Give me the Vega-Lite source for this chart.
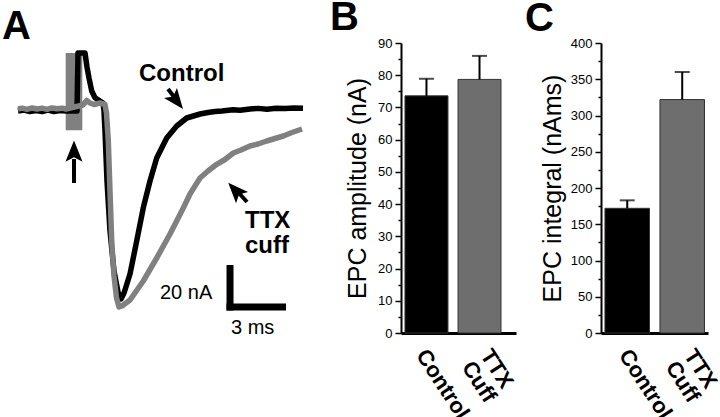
{
  "$schema": "https://vega.github.io/schema/vega-lite/v6.json",
  "background": "white",
  "padding": {"left": 0, "top": -3, "right": 0, "bottom": 0},
  "bounds": "flush",
  "spacing": 85,
  "config": {
    "view": {"stroke": null},
    "font": "Liberation Sans",
    "axis": {"labelFont": "Liberation Sans", "titleFont": "Liberation Sans", "grid": false, "labelColor": "black", "titleColor": "black", "domainColor": "black", "tickColor": "black"},
    "axisY": {"labelOverlap": false},
    "title": {"font": "Liberation Sans", "color": "black", "fontSize": 40, "fontWeight": "bold", "anchor": "start", "frame": "group", "baseline": "alphabetic"},
    "text": {"font": "Liberation Sans"}
  },
  "datasets": {
    "black": [
      {"t": -2.513, "I": -0.952}, {"t": -2.193, "I": -0.476}, {"t": -1.872, "I": -1.2}, {"t": -1.551, "I": -0.714},
      {"t": -1.230, "I": -1.2}, {"t": -0.909, "I": -0.476}, {"t": -0.588, "I": -1.190}, {"t": -0.267, "I": -0.714},
      {"t": 0.053, "I": -0.952}, {"t": 0.642, "I": -0.952}, {"t": 0.695, "I": 26.667}, {"t": 1.070, "I": 26.667},
      {"t": 1.176, "I": 20.0}, {"t": 1.283, "I": 14.762}, {"t": 1.428, "I": 8.571}, {"t": 1.604, "I": 5.381},
      {"t": 1.872, "I": 3.810}, {"t": 2.032, "I": 2.857}, {"t": 2.086, "I": -0.952}, {"t": 2.139, "I": -10.476},
      {"t": 2.246, "I": -34.286}, {"t": 2.406, "I": -58.095}, {"t": 2.620, "I": -77.143}, {"t": 2.834, "I": -87.143},
      {"t": 2.995, "I": -90.476}, {"t": 3.155, "I": -87.619}, {"t": 3.476, "I": -78.571}, {"t": 3.834, "I": -62.857},
      {"t": 4.187, "I": -47.0}, {"t": 4.545, "I": -34.286}, {"t": 4.904, "I": -23.333}, {"t": 5.439, "I": -13.810},
      {"t": 5.973, "I": -8.095}, {"t": 6.508, "I": -4.286}, {"t": 7.219, "I": -2.381}, {"t": 7.647, "I": -1.667},
      {"t": 8.021, "I": -1.190}, {"t": 8.396, "I": -0.952}, {"t": 8.984, "I": -0.4}, {"t": 9.358, "I": -0.6},
      {"t": 9.893, "I": 0}, {"t": 10.321, "I": 0.3}, {"t": 10.802, "I": -0.1}, {"t": 11.283, "I": 0.4},
      {"t": 11.765, "I": 0.2}, {"t": 12.246, "I": 0.5}, {"t": 12.727, "I": 0.4}
    ],
    "gray": [
      {"t": -2.513, "I": 0}, {"t": -2.299, "I": 0.4}, {"t": -2.032, "I": -0.2}, {"t": -1.765, "I": 0.5},
      {"t": -1.497, "I": 0}, {"t": -1.230, "I": 0.4}, {"t": -0.963, "I": -0.2}, {"t": -0.695, "I": 0.5},
      {"t": -0.428, "I": 0.1}, {"t": -0.160, "I": 0.4}, {"t": 0.053, "I": 0}, {"t": 0.963, "I": 1.905},
      {"t": 1.160, "I": 4.048}, {"t": 1.337, "I": 2.857}, {"t": 1.551, "I": 2.143}, {"t": 1.872, "I": 2.857},
      {"t": 2.139, "I": 2.143}, {"t": 2.219, "I": -1.905}, {"t": 2.316, "I": -15.238}, {"t": 2.406, "I": -39.048},
      {"t": 2.497, "I": -62.857}, {"t": 2.620, "I": -79.524}, {"t": 2.754, "I": -90.0}, {"t": 2.888, "I": -94.286},
      {"t": 3.048, "I": -93.810}, {"t": 3.476, "I": -90.952}, {"t": 4.187, "I": -81.905}, {"t": 4.904, "I": -70.952},
      {"t": 5.615, "I": -59.524}, {"t": 6.326, "I": -47.143}, {"t": 6.684, "I": -40.476}, {"t": 7.219, "I": -32.857},
      {"t": 7.647, "I": -29.524}, {"t": 8.112, "I": -26.333}, {"t": 8.556, "I": -24.048}, {"t": 9.0, "I": -20.952},
      {"t": 9.412, "I": -19.524}, {"t": 9.893, "I": -17.619}, {"t": 10.321, "I": -16.667}, {"t": 10.786, "I": -15.238},
      {"t": 11.230, "I": -14.048}, {"t": 11.674, "I": -12.857}, {"t": 12.139, "I": -11.190}, {"t": 12.674, "I": -9.524}
    ],
    "artifact": [{"t": 0.037, "t2": 0.925, "I": 26.667, "I2": -10.143}],
    "boldLabels": [
      {"t": 3.957, "I": 13.333, "text": "Control"},
      {"t": 9.626, "I": -56.667, "text": "TTX"},
      {"t": 9.626, "I": -68.571, "text": "cuff"}
    ],
    "regLabels": [
      {"t": 5.080, "I": -90.476, "text": "20 nA"},
      {"t": 8.877, "I": -107.143, "text": "3 ms"}
    ],
    "scalebar": [
      {"t": 8.824, "t2": 8.824, "I": -74.286, "I2": -95.952},
      {"t": 8.636, "t2": 11.818, "I": -94.286, "I2": -94.286}
    ],
    "stems": [
      {"t": 5.508, "t2": 6.043, "I": 9.524, "I2": 3.333},
      {"t": 9.251, "t2": 9.733, "I": -39.524, "I2": -44.286},
      {"t": 0.481, "t2": 0.481, "I": -23.81, "I2": -35.238}
    ],
    "arrows": [
      {"name": "control", "t": 5.947, "I": 4.095},
      {"name": "ttx", "t": 9.128, "I": -38.952},
      {"name": "stim", "t": 0.481, "I": -20.476}
    ],
    "amp": [
      {"group": "Control", "mean": 73.6, "upper": 78.9},
      {"group": "TTX Cuff", "mean": 78.7, "upper": 86.0}
    ],
    "integ": [
      {"group": "Control", "mean": 172, "upper": 183},
      {"group": "TTX Cuff", "mean": 322, "upper": 360}
    ]
  },
  "hconcat": [
    {
      "width": 316,
      "height": 290,
      "title": {"text": "A", "offset": -3.5, "dx": 2},
      "encoding": {
        "x": {"field": "t", "type": "quantitative", "scale": {"domain": [-3.476, 13.422], "nice": false, "zero": false}, "axis": null},
        "y": {"field": "I", "type": "quantitative", "scale": {"domain": [-106.667, 31.429], "nice": false, "zero": false}, "axis": null}
      },
      "layer": [
        {"data": {"name": "artifact"}, "mark": {"type": "rect", "color": "#808080"}, "encoding": {"x2": {"field": "t2"}, "y2": {"field": "I2"}}},
        {"data": {"name": "black"}, "mark": {"type": "line", "color": "#000000", "strokeWidth": 5.5, "strokeJoin": "round"}, "encoding": {}},
        {"data": {"name": "gray"}, "mark": {"type": "line", "color": "#808080", "strokeWidth": 5.5, "strokeJoin": "round"}, "encoding": {}},
        {"data": {"name": "scalebar"}, "mark": {"type": "rule", "color": "#000000", "strokeWidth": 7}, "encoding": {"x2": {"field": "t2"}, "y2": {"field": "I2"}}},
        {"data": {"name": "stems"}, "mark": {"type": "rule", "color": "#000000", "strokeWidth": 4}, "encoding": {"x2": {"field": "t2"}, "y2": {"field": "I2"}}},
        {"data": {"name": "arrows"}, "transform": [{"filter": "datum.name === 'control'"}], "mark": {"type": "point", "shape": "M0,-1L0.75,0.85L0,0.45L-0.75,0.85Z", "filled": true, "color": "#000000", "opacity": 1, "size": 480, "angle": 142}, "encoding": {}},
        {"data": {"name": "arrows"}, "transform": [{"filter": "datum.name === 'ttx'"}], "mark": {"type": "point", "shape": "M0,-1L0.75,0.85L0,0.45L-0.75,0.85Z", "filled": true, "color": "#000000", "opacity": 1, "size": 480, "angle": 317}, "encoding": {}},
        {"data": {"name": "arrows"}, "transform": [{"filter": "datum.name === 'stim'"}], "mark": {"type": "point", "shape": "M0,-1L0.75,0.85L0,0.45L-0.75,0.85Z", "filled": true, "color": "#000000", "opacity": 1, "size": 520, "angle": 0}, "encoding": {}},
        {"data": {"name": "boldLabels"}, "mark": {"type": "text", "font": "Liberation Sans", "fontSize": 24, "fontWeight": "bold", "align": "left", "baseline": "alphabetic", "color": "#000000"}, "encoding": {"text": {"field": "text"}}},
        {"data": {"name": "regLabels"}, "mark": {"type": "text", "font": "Liberation Sans", "fontSize": 20, "align": "left", "baseline": "alphabetic", "color": "#000000"}, "encoding": {"text": {"field": "text"}}}
      ]
    },
    {
      "width": 115,
      "height": 290,
      "title": {"text": "B", "offset": -0.5, "dx": -71},
      "data": {"name": "amp"},
      "encoding": {
        "x": {"field": "group", "type": "nominal", "sort": null,
          "scale": {"paddingInner": 0.19, "paddingOuter": 0.179, "align": 0.21},
          "axis": {"title": null, "ticks": false, "tickSize": 0, "domainWidth": 3, "labelFontSize": 22, "labelFontWeight": "bold", "labelAngle": 57, "labelAlign": "left", "labelBaseline": "middle", "labelPadding": 18,
            "labelOffset": {"condition": {"test": "datum.value === 'TTX Cuff'", "value": 6}, "value": -5},
            "labelOverlap": false, "labelLineHeight": 22, "labelExpr": "datum.value === 'TTX Cuff' ? ['TTX', 'Cuff'] : datum.label"}}
      },
      "layer": [
        {"mark": {"type": "bar", "stroke": "#333333", "strokeWidth": 1},
          "encoding": {
            "y": {"field": "mean", "type": "quantitative", "scale": {"domain": [0, 90], "nice": false},
              "axis": {"title": "EPC amplitude (nA)", "titleFontSize": 25, "titleFontWeight": "normal", "titleX": -31,
                "values": [0, 5, 10, 15, 20, 25, 30, 35, 40, 45, 50, 55, 60, 65, 70, 75, 80, 85, 90],
                "tickCount": 100,
                "labelExpr": "datum.value % 10 === 0 ? datum.label : ''",
                "labelOverlap": false, "labelFlush": false,
                "tickSize": {"condition": {"test": "datum.value % 10 === 0", "value": 6}, "value": 3},
                "labelFontSize": 13, "labelPadding": 3, "domainWidth": 2, "tickWidth": 1.5}},
            "color": {"field": "group", "type": "nominal", "scale": {"domain": ["Control", "TTX Cuff"], "range": ["#000000", "#6e6e6e"]}, "legend": null}
          }},
        {"mark": {"type": "rule", "color": "#000000", "strokeWidth": 2}, "encoding": {"y": {"field": "mean", "type": "quantitative"}, "y2": {"field": "upper"}}},
        {"mark": {"type": "tick", "color": "#000000", "thickness": 2, "size": 15, "orient": "horizontal"}, "encoding": {"y": {"field": "upper", "type": "quantitative"}}}
      ]
    },
    {
      "width": 107,
      "height": 290,
      "title": {"text": "C", "offset": -2, "dx": -76},
      "data": {"name": "integ"},
      "encoding": {
        "x": {"field": "group", "type": "nominal", "sort": null,
          "scale": {"paddingInner": 0.19, "paddingOuter": 0.068, "align": 0.53},
          "axis": {"title": null, "ticks": false, "tickSize": 0, "domainWidth": 3, "labelFontSize": 22, "labelFontWeight": "bold", "labelAngle": 57, "labelAlign": "left", "labelBaseline": "middle", "labelPadding": 18,
            "labelOffset": {"condition": {"test": "datum.value === 'TTX Cuff'", "value": 7}, "value": -3},
            "labelOverlap": false, "labelLineHeight": 22, "labelExpr": "datum.value === 'TTX Cuff' ? ['TTX', 'Cuff'] : datum.label"}}
      },
      "layer": [
        {"mark": {"type": "bar", "stroke": "#333333", "strokeWidth": 1},
          "encoding": {
            "y": {"field": "mean", "type": "quantitative", "scale": {"domain": [0, 400], "nice": false},
              "axis": {"title": "EPC integral (nAms)", "titleFontSize": 25, "titleFontWeight": "normal", "titleX": -36,
                "values": [0, 25, 50, 75, 100, 125, 150, 175, 200, 225, 250, 275, 300, 325, 350, 375, 400],
                "tickCount": 100,
                "labelExpr": "datum.value % 50 === 0 ? datum.label : ''",
                "labelOverlap": false, "labelFlush": false,
                "tickSize": {"condition": {"test": "datum.value % 50 === 0", "value": 6}, "value": 3},
                "labelFontSize": 13, "labelPadding": 3, "domainWidth": 2, "tickWidth": 1.5}},
            "color": {"field": "group", "type": "nominal", "scale": {"domain": ["Control", "TTX Cuff"], "range": ["#000000", "#6e6e6e"]}, "legend": null}
          }},
        {"mark": {"type": "rule", "color": "#000000", "strokeWidth": 2}, "encoding": {"y": {"field": "mean", "type": "quantitative"}, "y2": {"field": "upper"}}},
        {"mark": {"type": "tick", "color": "#000000", "thickness": 2, "size": 15, "orient": "horizontal"}, "encoding": {"y": {"field": "upper", "type": "quantitative"}}}
      ]
    }
  ]
}
